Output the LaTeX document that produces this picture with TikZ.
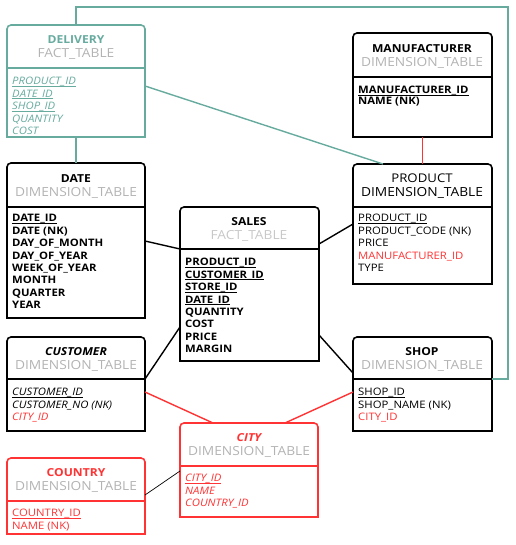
\documentclass[tikz,border=0pt]{standalone}
\usepackage{fontspec}
\setmainfont{Open Sans}[FakeStretch=1.1]
\usetikzlibrary{calc}
\definecolor{teal}{HTML}{67AB9F}
\definecolor{rred}{HTML}{FF3333}
\definecolor{gtxt}{HTML}{B3B3B3}
\definecolor{gfact}{HTML}{C8C8C8}
\newcommand{\tbl}[7]{%
  \node[tblbox, minimum width={(#4-#2)*1pt}, minimum height={(#5-#3)*1pt}] (#1) at ({(#2+#4)/2},{(#3+#5)/2}) {};
  \draw[boxline, draw=#7] (#1.south west) [rounded corners=4pt] -- (#1.north west) -- (#1.north east) [sharp corners] -- (#1.south east) -- cycle;
  \draw[boxline, draw=#7] (#1.west |- 0,#6) -- (#1.east |- 0,#6);
}
\newcommand{\ul}[1]{\setbox0\hbox{#1}\rlap{\rule[-1.7pt]{\wd0}{0.6pt}}\box0}
\newcommand{\tname}[1]{{\fontsize{11}{14.5}\selectfont\bfseries #1}}
\newcommand{\ttype}[2][gtxt]{{\fontsize{12.5}{14.5}\selectfont\color{#1}#2}}
\tikzset{
  tblbox/.style={inner sep=0pt, outer sep=0pt, draw=none},
  boxline/.style={line width=1.6pt},
  ttl/.style={align=center, font=\fontsize{12.5}{14.5}\selectfont, inner sep=0pt, anchor=north},
  body/.style={align=left, font=\fontsize{10.3}{12.4}\selectfont, inner sep=0pt, anchor=north west},
  conn/.style={line width=1.4pt},
}
\begin{document}
\begin{tikzpicture}[x=1pt,y=-1pt]
\useasboundingbox (0,0) rectangle (515,545);

% tables
\tbl{delivery}{7}{25}{145}{137}{68}{teal}
\tbl{manuf}{353}{33}{492}{137}{77}{black}
\tbl{date}{7}{163}{145}{318}{207}{black}
\tbl{sales}{180}{207}{319}{361}{249}{black}
\tbl{product}{353}{164}{492}{284}{207}{black}
\tbl{customer}{7}{337}{145}{431}{379}{black}
\tbl{shop}{353}{337}{492}{431}{379}{black}
\tbl{city}{180}{423}{318}{517}{466}{rred}
\tbl{country}{7}{458}{145}{534}{501}{rred}

% titles
\node[ttl, text=teal] (delivery-t) at (76,35) {\tname{DELIVERY}\\\ttype{FACT\_TABLE}};
\node[ttl] (manuf-t) at (422,44) {\tname{MANUFACTURER}\\\ttype{DIMENSION\_TABLE}};
\node[ttl] (date-t) at (76,174) {\tname{DATE}\\\ttype{DIMENSION\_TABLE}};
\node[ttl] (sales-t) at (249,217) {\tname{SALES}\\\ttype[gfact]{FACT\_TABLE}};
\node[ttl] (product-t) at (422,173.5) {{\fontsize{12}{14.5}\selectfont PRODUCT}\\\ttype[black]{DIMENSION\_TABLE}};
\node[ttl] (customer-t) at (76,347) {\tname{\itshape CUSTOMER}\\\ttype{DIMENSION\_TABLE}};
\node[ttl] (shop-t) at (422,347) {\tname{SHOP}\\\ttype{DIMENSION\_TABLE}};
\node[ttl, text=rred] (city-t) at (249,433) {\tname{\itshape CITY}\\\ttype{DIMENSION\_TABLE}};
\node[ttl, text=rred] (country-t) at (76,468) {\tname{COUNTRY}\\\ttype{DIMENSION\_TABLE}};

% bodies
\node[body, text=teal, font=\fontsize{10.3}{12.4}\selectfont\itshape] (delivery-b) at (12,77.3)
  {\ul{PRODUCT\_ID}\\\ul{DATE\_ID}\\\ul{SHOP\_ID}\\QUANTITY\\COST};
\node[body, font=\fontsize{10.3}{10.5}\selectfont\bfseries] (manuf-b) at (358,86.3)
  {\ul{MANUFACTURER\_ID}\\NAME (NK)};
\node[body, font=\fontsize{10.3}{12.4}\selectfont\bfseries] (date-b) at (12,214.3)
  {\ul{DATE\_ID}\\DATE (NK)\\DAY\_OF\_MONTH\\DAY\_OF\_YEAR\\WEEK\_OF\_YEAR\\MONTH\\QUARTER\\YEAR};
\node[body, font=\fontsize{10.3}{12.4}\selectfont\bfseries] (sales-b) at (185,258.3)
  {\ul{PRODUCT\_ID}\\\ul{CUSTOMER\_ID}\\\ul{STORE\_ID}\\\ul{DATE\_ID}\\QUANTITY\\COST\\PRICE\\MARGIN};
\node[body] (product-b) at (358,214.3)
  {\ul{PRODUCT\_ID}\\PRODUCT\_CODE (NK)\\PRICE\\\textcolor{rred}{MANUFACTURER\_ID}\\TYPE};
\node[body, font=\fontsize{10.3}{12.4}\selectfont\itshape] (customer-b) at (12,388.3)
  {\ul{CUSTOMER\_ID}\\CUSTOMER\_NO (NK)\\\textcolor{rred}{CITY\_ID}};
\node[body] (shop-b) at (358,388.3)
  {\ul{SHOP\_ID}\\SHOP\_NAME (NK)\\\textcolor{rred}{CITY\_ID}};
\node[body, text=rred, font=\fontsize{10.3}{12.4}\selectfont\itshape] (city-b) at (185,474.3)
  {\ul{CITY\_ID}\\NAME\\COUNTRY\_ID};
\node[body, text=rred] (country-b) at (12,509.3)
  {\ul{COUNTRY\_ID}\\NAME (NK)};

% connectors
\coordinate (tA) at (76,7);
\coordinate (tB) at (508,7);
\coordinate (tC) at (508,379);
\draw[conn, teal] (delivery.north) -- (tA) -- (tB) -- (tC) -- (shop.east |- tC);
\draw[conn, teal] (delivery.south) -- (date.north);
\draw[conn, teal] (delivery.east |- 0,86) -- (product.north west -| 383,0);
\draw[conn, rred] (manuf.south) -- (product.north);
\draw[conn] (date.east |- 0,241) -- (sales.west |- 0,249);
\draw[conn] (sales.east |- 0,244) -- (product.west |- 0,224);
\draw[conn] (customer.east |- 0,379) -- (sales.west |- 0,327);
\draw[conn] (sales.east |- 0,335) -- (shop.west |- 0,373);
\draw[conn, rred] (customer.east |- 0,392) -- (city.north west -| 213,0);
\draw[conn, rred] (shop.west |- 0,392) -- (city.north west -| 285,0);
\draw[line width=0.7pt] (country.east |- 0,495) -- (city.west |- 0,471);
\end{tikzpicture}
\end{document}
